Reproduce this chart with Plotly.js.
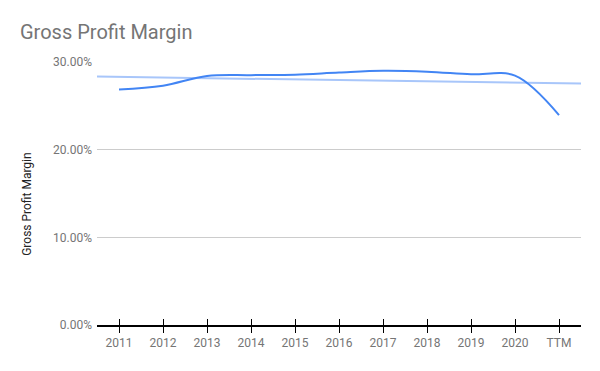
<!DOCTYPE html>
<html>
<head>
<meta charset="utf-8">
<script src="https://cdn.plot.ly/plotly-3.0.1.min.js"></script>
<style>
html,body{margin:0;padding:0;background:#fff;}
#chart{width:600px;height:371px;}
</style>
</head>
<body>
<div id="chart"></div>
<script>
const categories = ["2011","2012","2013","2014","2015","2016","2017","2018","2019","2020","TTM"];
const grossMargin = [0.2685, 0.2730, 0.2840, 0.2850, 0.2855, 0.2880, 0.2900, 0.2890, 0.2860, 0.2845, 0.2395];
const yTickVals = [0, 0.10, 0.20, 0.30];

const idx = categories.map((c, i) => i);

// least-squares linear trendline over the data
const n = grossMargin.length;
const mx = idx.reduce((a, b) => a + b, 0) / n;
const my = grossMargin.reduce((a, b) => a + b, 0) / n;
let sxy = 0, sxx = 0;
for (let i = 0; i < n; i++) { sxy += (idx[i] - mx) * (grossMargin[i] - my); sxx += (idx[i] - mx) ** 2; }
const slope = sxy / sxx;
const trendX = [-0.5, n - 0.5];
const trendY = trendX.map(x => my + slope * (x - mx));

const traces = [
  {
    x: trendX, y: trendY, type: 'scatter', mode: 'lines',
    line: {color: '#a8c6fa', width: 2}, hoverinfo: 'skip', showlegend: false
  },
  {
    x: idx, y: grossMargin, type: 'scatter', mode: 'lines',
    line: {color: '#4285f4', width: 2, shape: 'spline', smoothing: 1.0},
    name: 'Gross Profit Margin', showlegend: false
  },
  {
    x: idx, y: grossMargin, xaxis: 'x2', type: 'scatter', mode: 'lines',
    line: {color: 'rgba(0,0,0,0)', width: 0}, hoverinfo: 'skip', showlegend: false
  }
];

const layout = {
  width: 600, height: 371,
  margin: {l: 97, r: 19, t: 62, b: 46},
  paper_bgcolor: '#fff', plot_bgcolor: '#fff',
  font: {family: 'Roboto, Arial, sans-serif', color: '#757575', size: 12},
  title: {
    text: 'Gross Profit Margin',
    font: {family: 'Roboto, Arial, sans-serif', size: 20, color: '#757575'},
    x: 0, xref: 'paper', xanchor: 'left', y: 0.914, yref: 'container', yanchor: 'middle',
    pad: {l: -77}
  },
  xaxis: {
    range: [-0.5, n - 0.5],
    tickvals: idx, ticktext: categories,
    ticks: 'outside', ticklen: 6, tickwidth: 1, tickcolor: '#000',
    showline: true, linecolor: '#000', linewidth: 1.5,
    showgrid: false, zeroline: false,
    tickfont: {size: 12, color: '#757575'},
    fixedrange: true
  },
  xaxis2: {
    overlaying: 'x', anchor: 'y',
    range: [-0.5, n - 0.5],
    tickvals: idx, showticklabels: false,
    ticks: 'inside', ticklen: 6, tickwidth: 1, tickcolor: '#000',
    showline: false, showgrid: false, zeroline: false
  },
  yaxis: {
    range: [0, 0.30],
    tickvals: yTickVals, tickformat: '.2%',
    showgrid: true, gridcolor: '#cccccc', gridwidth: 1,
    zeroline: false, showline: false, ticks: '',
    tickfont: {size: 12, color: '#757575'},
    ticklabelstandoff: 4,
    fixedrange: true
  },
  annotations: [{
    text: 'Gross Profit Margin', textangle: -90,
    xref: 'paper', yref: 'paper', x: -0.145, y: 0.46,
    xanchor: 'center', yanchor: 'middle', showarrow: false,
    font: {family: 'Roboto, Arial, sans-serif', size: 12, color: '#222222'}
  }]
};

Plotly.newPlot('chart', traces, layout, {displayModeBar: false, staticPlot: true});
</script>
</body>
</html>
